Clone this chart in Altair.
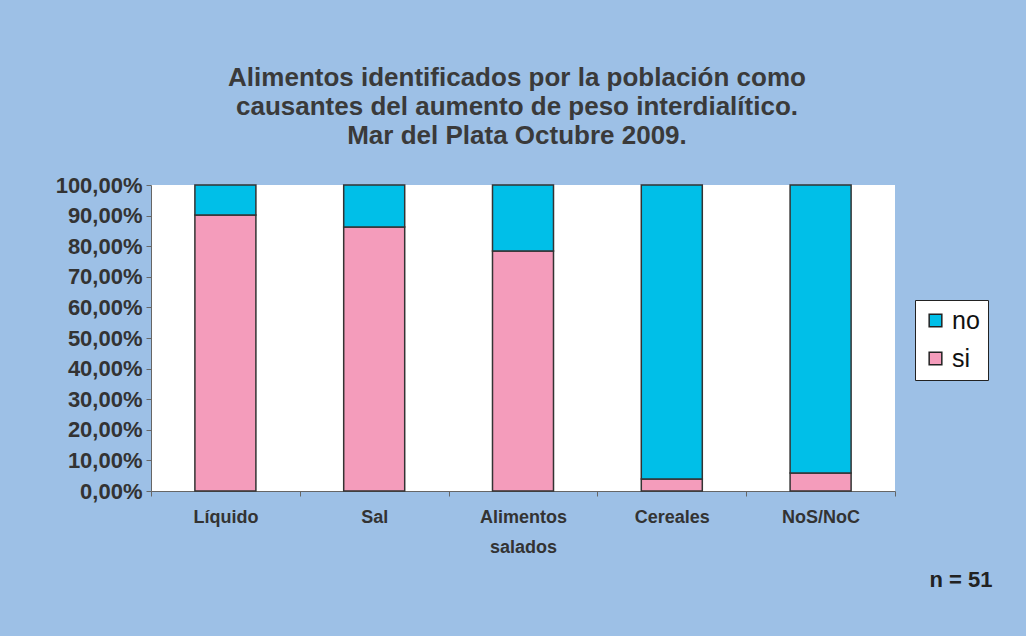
import altair as alt
import pandas as pd

categories = ["Líquido", "Sal", "Alimentos salados", "Cereales", "NoS/NoC"]
si_values = [0.902, 0.863, 0.784, 0.039, 0.059]
no_values = [0.098, 0.137, 0.216, 0.961, 0.941]
series = ["no", "si"]
colors = ["#00bfe8", "#f49cbb"]

rows = []
for c, s, n in zip(categories, si_values, no_values):
    rows.append({"cat": c, "serie": "si", "val": s, "ord": 0})
    rows.append({"cat": c, "serie": "no", "val": n, "ord": 1})
df = pd.DataFrame(rows)

FONT = "Liberation Sans"

bars = alt.Chart(df).mark_bar(
    width=alt.RelativeBandSize(0.41), stroke="#333333", strokeWidth=1.5
).encode(
    x=alt.X("cat:N", sort=categories, title=None,
            scale=alt.Scale(paddingInner=0, paddingOuter=0),
            axis=alt.Axis(labelAngle=0, tickBand="extent", labelFont=FONT,
                          labelFontSize=18, labelFontWeight="bold", labelColor="#333333",
                          labelPadding=12, domainColor="#666666", tickColor="#666666",
                          tickSize=5, labelLineHeight=30,
                          labelExpr="datum.value == 'Alimentos salados' ? ['Alimentos', 'salados'] : datum.value")),
    y=alt.Y("val:Q", stack="zero", title=None,
            scale=alt.Scale(domain=[0, 1], nice=False),
            axis=alt.Axis(values=[i / 10 for i in range(11)], grid=False,
                          labelExpr="replace(format(datum.value * 100, '.2f'), '.', ',') + '%'",
                          labelFont=FONT, labelFontSize=22, labelFontWeight="bold",
                          labelColor="#333333", domainColor="#666666", tickColor="#666666",
                          tickSize=5, labelPadding=4)),
    color=alt.Color("serie:N", scale=alt.Scale(domain=series, range=colors),
                    legend=alt.Legend(title=None, orient="none", legendX=764, legendY=115,
                                      fillColor="white", strokeColor="#222222", padding=8,
                                      symbolType="square", symbolSize=160, symbolStrokeColor="#222222",
                                      symbolStrokeWidth=1.5, labelFont=FONT, labelFontSize=25,
                                      labelColor="#111111", rowPadding=12, labelOffset=4)),
    order=alt.Order("ord:Q"),
)

note = alt.Chart(pd.DataFrame({"t": ["n = 51"]})).mark_text(
    font=FONT, fontSize=22, fontWeight="bold", color="#222222", align="center", baseline="middle"
).encode(text="t:N", x=alt.value(810), y=alt.value(395))

chart = alt.layer(bars, note).properties(
    width=744, height=306,
    autosize=alt.AutoSizeParams(type="none"),
    padding={"left": 151, "top": 185, "right": 131, "bottom": 145},
    background="#9dc0e6",
    title=alt.TitleParams(
        text=["Alimentos identificados por la población como",
              "causantes del aumento de peso interdialítico.",
              "Mar del Plata Octubre 2009."],
        font=FONT, fontSize=26, fontWeight="bold", color="#3a3a3a",
        lineHeight=29, anchor="middle", offset=25, dx=-6,
    ),
).configure_view(fill="white", stroke=None)

chart.save("out.html", embed_options={"renderer": "svg", "actions": False})
